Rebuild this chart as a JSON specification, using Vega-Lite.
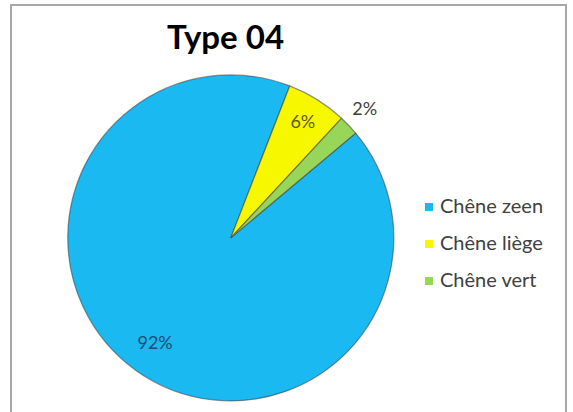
{
  "$schema": "https://vega.github.io/schema/vega-lite/v6.json",
  "autosize": {"type": "none"},
  "padding": {"left": 11, "top": 5, "right": 7, "bottom": 0},
  "width": 555,
  "height": 410,
  "background": "#ffffff",
  "view": {"stroke": "#a8a8a8", "strokeWidth": 2},
  "config": {
    "font": "Lato"
  },
  "title": {
    "text": "Type 04",
    "font": "Lato",
    "fontSize": 33,
    "fontWeight": "bold",
    "color": "#000000",
    "anchor": "middle",
    "frame": "group",
    "offset": 0,
    "baseline": "alphabetic",
    "dx": -63,
    "dy": 77
  },
  "data": {
    "values": [
      {"type": "Chêne zeen", "pct": 92, "label": "92%", "rank": 1},
      {"type": "Chêne liège", "pct": 6, "label": "6%", "rank": 2},
      {"type": "Chêne vert", "pct": 2, "label": "2%", "rank": 3}
    ]
  },
  "encoding": {
    "theta": {"field": "pct", "type": "quantitative", "stack": true, "scale": {"range": [0.8727, 7.1559]}},
    "order": {"field": "rank", "type": "quantitative"}
  },
  "layer": [
    {
      "mark": {
        "type": "arc",
        "outerRadius": 163,
        "x": {"expr": "width*0.396"},
        "y": {"expr": "height*0.568"},
        "stroke": "#3a3a3a",
        "strokeOpacity": 0.55,
        "strokeWidth": 1.2
      },
      "encoding": {
        "color": {
          "field": "type",
          "type": "nominal",
          "sort": null,
          "scale": {"domain": ["Chêne zeen", "Chêne liège", "Chêne vert"], "range": ["#1ab9f1", "#f7f700", "#98d65a"]},
          "legend": {
            "title": null,
            "orient": "none",
            "legendX": 408,
            "legendY": 192,
            "symbolType": "square",
            "symbolSize": 64,
            "symbolStrokeWidth": 0,
            "labelFont": "Lato",
            "labelFontSize": 20,
            "labelColor": "#404040",
            "labelOffset": 1,
            "rowPadding": 17,
            "labelLimit": 200
          }
        }
      }
    },
    {
      "mark": {
        "type": "text",
        "x": {"expr": "width*0.396"},
        "y": {"expr": "height*0.568"},
        "radius": {"expr": "datum.type == 'Chêne vert' ? 185 : (datum.type == 'Chêne liège' ? 136 : 130)"},
        "fontSize": 18,
        "font": "Lato"
      },
      "encoding": {
        "text": {"field": "label"},
        "color": {
          "field": "type",
          "type": "nominal",
          "sort": null,
          "scale": {"domain": ["Chêne zeen", "Chêne liège", "Chêne vert"], "range": ["#1f4e6e", "#5a5a10", "#404040"]},
          "legend": null
        }
      }
    }
  ],
  "resolve": {"scale": {"color": "independent"}}
}
